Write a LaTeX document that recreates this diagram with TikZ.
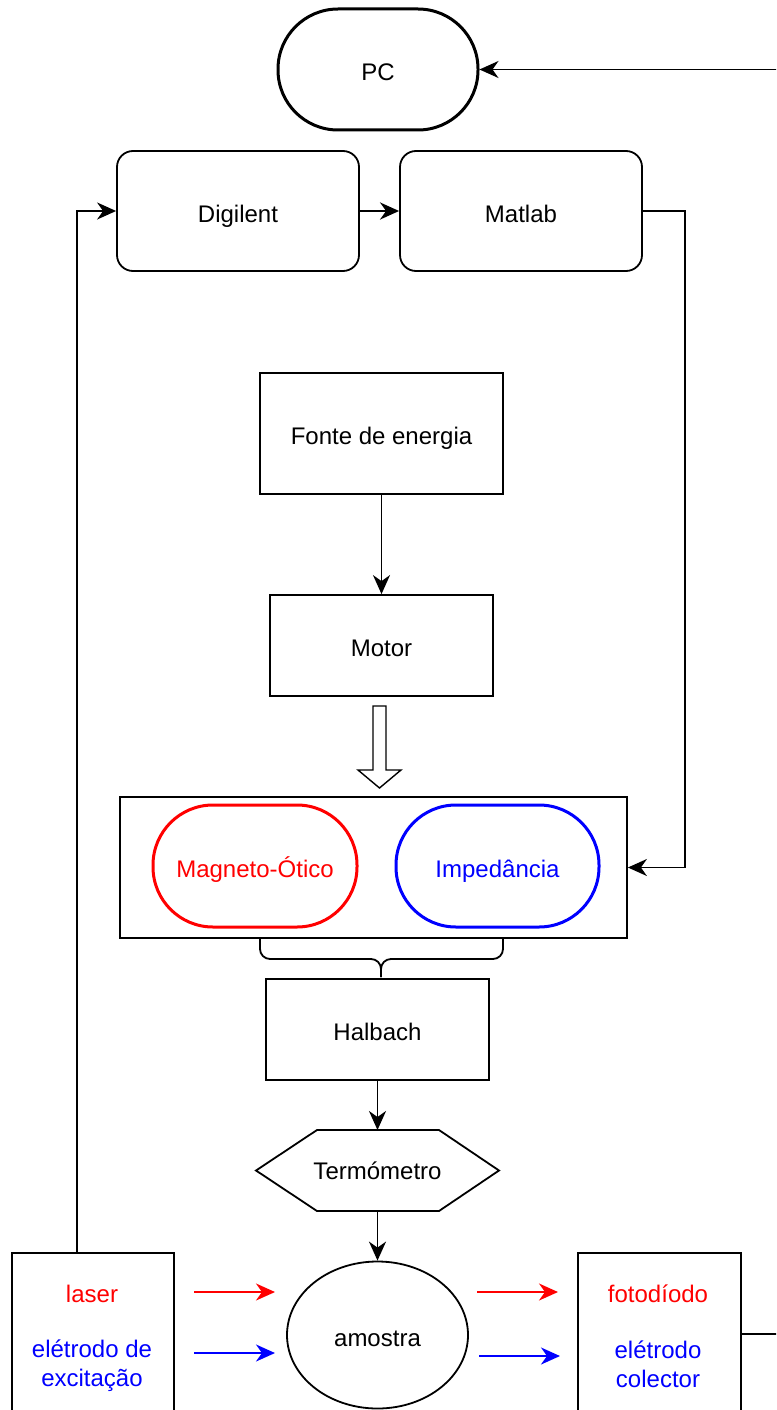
\documentclass[tikz,border=0pt]{standalone}
\usepackage{fontspec}
\setmainfont{Liberation Sans}
\usetikzlibrary{arrows.meta,calc,shapes.geometric}
\definecolor{dred}{RGB}{255,0,0}
\definecolor{dblue}{RGB}{0,0,255}
\begin{document}
\begin{tikzpicture}[x=1pt,y=-1pt,
  every node/.style={font=\fontsize{24}{29}\selectfont, align=center},
  lbl/.style={text height=22pt, text depth=0pt},
  box/.style={draw, line width=1.8pt, inner sep=0pt, lbl},
  rbox/.style={box, rounded corners=16pt},
  stadium/.style={draw, line width=3pt, rounded corners=60pt, minimum width=200pt, minimum height=120pt, inner sep=0pt, lbl},
  con/.style={line width=1.8pt, -{Stealth[length=19pt,width=17pt,inset=6pt]}},
  txt/.style={inner sep=0pt}
]
\useasboundingbox (0,0) rectangle (776,1410);
\clip (0,0) rectangle (776,1410);
\fill[white] (0,0) rectangle (776,1410);

% top
\node[stadium, minimum width=200pt, minimum height=121pt] (pc) at (378,69.5) {PC};
\node[rbox, minimum width=242pt, minimum height=120pt] (dig) at (238,211) {Digilent};
\node[rbox, minimum width=242pt, minimum height=120pt] (mat) at (521,211) {Matlab};
\coordinate (pcin) at (790,69.5);
\draw[con] (pcin) -- (pc.east);
\draw[con, line width=2.8pt] (dig.east) -- (mat.west);

% middle
\node[box, minimum width=243pt, minimum height=121pt] (fonte) at (381.5,433.5) {Fonte de energia};
\node[box, minimum width=223pt, minimum height=101pt] (motor) at (381.5,645.5) {Motor};
\draw[con] (fonte.south) -- (motor.north);

\draw[line width=1.4pt, line join=miter] (373,706) -- (386,706) -- (386,770) -- (401,770) -- (379.5,788) -- (358,770) -- (373,770) -- cycle;

\node[box, minimum width=507pt, minimum height=141pt] (big) at (373.5,867.5) {};
\node[stadium, draw=dred, text=dred, minimum width=204pt, minimum height=122pt] (mo) at (255,866) {Magneto-Ótico};
\node[stadium, draw=dblue, text=dblue, minimum width=203pt, minimum height=122pt] (imp) at (497.5,866) {Impedância};

\draw[con] (mat.east) -- ++(42,0) |- (big.east);

% brace
\draw[line width=1.8pt, rounded corners=10pt] (260,938) -- (260,959) -- (381,959) -- (381,977);
\draw[line width=1.8pt, rounded corners=10pt] (503,938) -- (503,959) -- (381,959) -- (381,977);

\node[box, minimum width=223pt, minimum height=101pt] (hal) at (377.5,1029.5) {Halbach};
\draw[line width=1.8pt] (256,1170.5) -- (317,1130) -- (439,1130) -- (499,1170.5) -- (439,1211) -- (317,1211) -- cycle;
\node[txt] (termo) at (377.5,1171) {Termómetro};
\coordinate (termotop) at (377.5,1130);
\coordinate (termobot) at (377.5,1211);
\draw[con] (hal.south) -- (termotop);

\node[draw, ellipse, line width=1.8pt, minimum width=181pt, minimum height=147pt, inner sep=0pt, lbl] (am) at (377.5,1335) {amostra};
\draw[con] (termobot) -- (am.north);

% bottom boxes
\node[box, minimum width=162pt, minimum height=190pt, anchor=north west] (lbox) at (11,1252) {};
\node[txt, text=dred] (laser) at (92,1294) {laser};
\node[txt, text=dblue] (exc) at (92,1366) {elétrodo de\\excitação};
\node[box, minimum width=163pt, minimum height=190pt, anchor=north west] (rbx) at (577,1252) {};
\node[txt, text=dred] (foto) at (658,1294) {fotodíodo};
\node[txt, text=dblue] (col) at (658,1364) {elétrodo\\colector};

\draw[con] ([xshift=66pt]lbox.north west) |- (dig.west);
\coordinate (rout) at (790,1334);
\draw[line width=1.8pt] (740,1334) -- (rout);

\coordinate (a1s) at (194,1292); \coordinate (a1e) at (275,1292);
\coordinate (a2s) at (194,1353); \coordinate (a2e) at (275,1353);
\coordinate (a3s) at (477,1292); \coordinate (a3e) at (558,1292);
\coordinate (a4s) at (479,1356); \coordinate (a4e) at (560,1356);
\draw[con, dred] (a1s) -- (a1e);
\draw[con, dblue] (a2s) -- (a2e);
\draw[con, dred] (a3s) -- (a3e);
\draw[con, dblue] (a4s) -- (a4e);
\end{tikzpicture}
\end{document}
